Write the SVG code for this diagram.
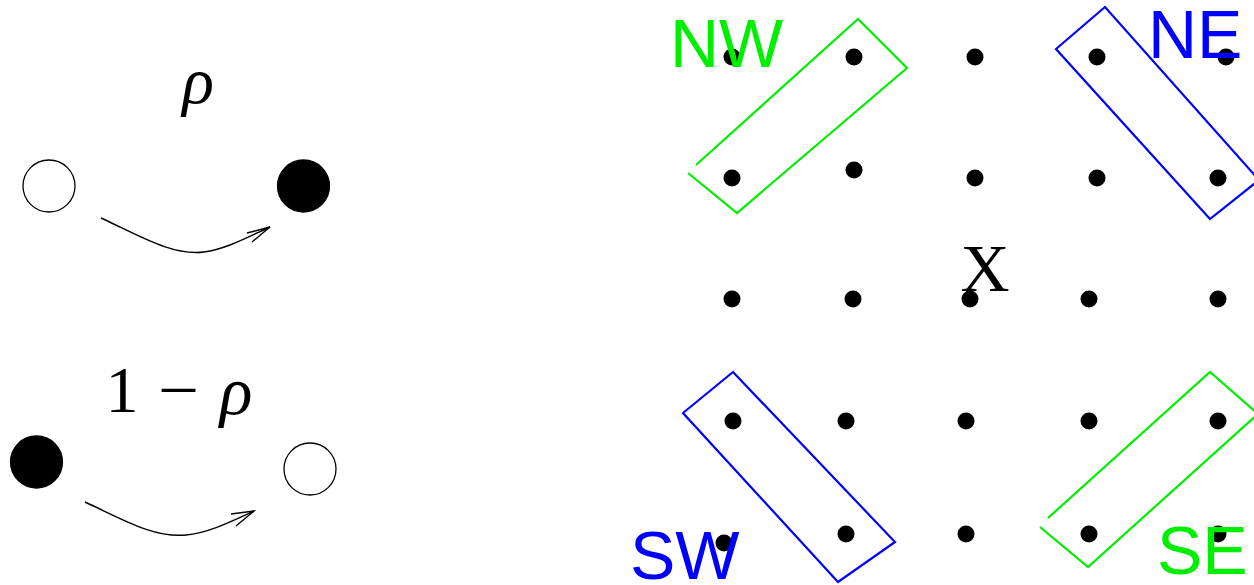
<svg xmlns="http://www.w3.org/2000/svg" width="1254" height="585" viewBox="0 0 1254 585">
<defs>
<style>
.open{fill:#fff;stroke:#000;stroke-width:1.3}
.full{fill:#000;stroke:#000;stroke-width:1.3}
.conn{fill:none;stroke:#000;stroke-width:1.4}
.dot{fill:#000}
.g{fill:none;stroke:#00ee00;stroke-width:2.2}
.b{fill:none;stroke:#0000ff;stroke-width:2.2}
.math{font-family:"Liberation Serif","DejaVu Serif",serif;fill:#000}
.lab{font-family:"Liberation Sans",Arial,sans-serif;font-size:68px}
</style>
</defs>
<rect width="1254" height="585" fill="#fff"/>
<g id="left-top">
<circle id="n1" class="open" cx="49" cy="186" r="26"/>
<circle id="n2" class="full" cx="303.5" cy="186" r="26"/>
<text class="math" x="198" y="103" font-size="66" font-style="italic" text-anchor="middle">ρ</text>
</g>
<g id="left-bottom">
<circle id="n3" class="full" cx="36.5" cy="462" r="26"/>
<circle id="n4" class="open" cx="310" cy="469" r="26"/>
<text class="math" x="122" y="412" font-size="66" text-anchor="middle">1</text>
<text class="math" x="158" y="412" font-size="66" textLength="41" lengthAdjust="spacingAndGlyphs">−</text>
<text class="math" x="236" y="414" font-size="68" font-style="italic" text-anchor="middle">ρ</text>
</g>
<g id="connectors">
<path class="conn" d="M101,218 C140,236 172,256 204,252 C226,249 246,238 270,227"/>
<path class="conn" d="M247,233 L270,227 L252,242"/>
<path class="conn" d="M85,502 C124,520 154,538 186,535 C208,533 230,522 254,511"/>
<path class="conn" d="M231,514 L254,511 L236,526"/>
</g>
<g id="grid">
<circle class="dot" cx="732" cy="57" r="8.5"/>
<circle class="dot" cx="854" cy="57" r="8.5"/>
<circle class="dot" cx="975" cy="57" r="8.5"/>
<circle class="dot" cx="1097" cy="57" r="8.5"/>
<circle class="dot" cx="1226" cy="57" r="8.5"/>
<circle class="dot" cx="732" cy="178" r="8.5"/>
<circle class="dot" cx="854" cy="170" r="8.5"/>
<circle class="dot" cx="975" cy="178" r="8.5"/>
<circle class="dot" cx="1097" cy="178" r="8.5"/>
<circle class="dot" cx="1218" cy="178" r="8.5"/>
<circle class="dot" cx="732" cy="299" r="8.5"/>
<circle class="dot" cx="853" cy="299" r="8.5"/>
<circle class="dot" cx="970" cy="299" r="8.5"/>
<circle class="dot" cx="1089" cy="299" r="8.5"/>
<circle class="dot" cx="1218" cy="299" r="8.5"/>
<circle class="dot" cx="733" cy="421" r="8.5"/>
<circle class="dot" cx="846" cy="421" r="8.5"/>
<circle class="dot" cx="966" cy="421" r="8.5"/>
<circle class="dot" cx="1089" cy="421" r="8.5"/>
<circle class="dot" cx="1218" cy="421" r="8.5"/>
<circle class="dot" cx="724" cy="543" r="8.5"/>
<circle class="dot" cx="846" cy="534" r="8.5"/>
<circle class="dot" cx="966" cy="534" r="8.5"/>
<circle class="dot" cx="1089" cy="534" r="8.5"/>
<circle class="dot" cx="1218" cy="534" r="8.5"/>
</g>
<g id="X">
<text class="math" x="985" y="291" font-size="68" text-anchor="middle">X</text>
</g>
<g id="NW">
<polyline class="g" points="696,165 858,19 907,68 737,213 688,173"/>
<text class="lab" x="670" y="67" fill="#00ee00">NW</text>
</g>
<g id="NE">
<polygon class="b" points="1105,7 1056,49 1210,219 1259,180"/>
<text class="lab" x="1148" y="58" fill="#0000ff">NE</text>
</g>
<g id="SW">
<polygon class="b" points="733,372 683,413 838,582 895,542"/>
<text class="lab" x="630" y="579" fill="#0000ff">SW</text>
</g>
<g id="SE">
<polyline class="g" points="1048,518 1210,372 1258,414 1088,567 1040,527"/>
<text class="lab" x="1157" y="574" fill="#00ee00">SE</text>
</g>
</svg>
